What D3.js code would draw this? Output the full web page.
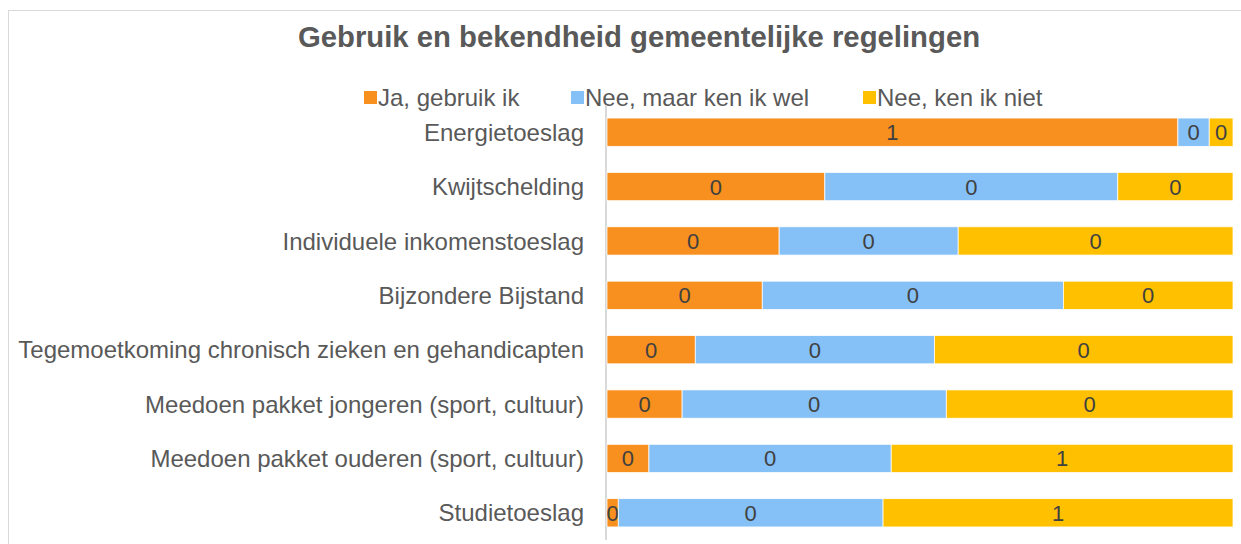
<!DOCTYPE html>
<html><head><meta charset="utf-8">
<script src="https://cdn.jsdelivr.net/npm/d3@7"></script>
<style>body{margin:0;background:#fff}svg{display:block}</style>
</head><body>
<script>
const categories = ["Energietoeslag","Kwijtschelding","Individuele inkomenstoeslag","Bijzondere Bijstand","Tegemoetkoming chronisch zieken en gehandicapten","Meedoen pakket jongeren (sport, cultuur)","Meedoen pakket ouderen (sport, cultuur)","Studietoeslag"];
const seriesNames = ["Ja, gebruik ik","Nee, maar ken ik wel","Nee, ken ik niet"];
const jaGebruik   = [0.912,0.348,0.275,0.248,0.141,0.120,0.067,0.018];
const neeKenWel   = [0.050,0.468,0.286,0.481,0.382,0.422,0.387,0.423];
const neeKenNiet  = [0.038,0.184,0.439,0.271,0.477,0.458,0.546,0.559];
const colors = ["#F7901E","#85C0F7","#FFC000"];
const title = "Gebruik en bekendheid gemeentelijke regelingen";

const W=1241,H=544;
const FF="Liberation Sans, Arial, sans-serif";
const svg=d3.select("body").append("svg").attr("width",W).attr("height",H);
svg.append("rect").attr("x",8.5).attr("y",10.5).attr("width",W).attr("height",H).attr("fill","#fff").attr("stroke","#d9d9d9");

const margin={left:607,right:8,top:105,bottom:4};
const rows=categories.map((c,i)=>({cat:c,s0:jaGebruik[i],s1:neeKenWel[i],s2:neeKenNiet[i]}));
const stack=d3.stack().keys(["s0","s1","s2"]).offset(d3.stackOffsetExpand)(rows);

const x=d3.scaleLinear().domain([0,1]).range([margin.left,W-margin.right]);
const y=d3.scaleBand().domain(categories).range([margin.top,H-margin.bottom]).paddingInner(0.48).paddingOuter(0.24);

svg.append("text").attr("x",639).attr("y",47).attr("text-anchor","middle")
  .attr("font-family",FF).attr("font-weight","bold").attr("font-size",29.3).attr("fill","#595959").text(title);

// legend
const legX=[364,571,863];
const lg=svg.append("g");
seriesNames.forEach((n,i)=>{
  lg.append("rect").attr("x",legX[i]).attr("y",91).attr("width",13).attr("height",13).attr("fill",colors[i]);
  lg.append("text").attr("x",legX[i]+14).attr("y",106).attr("font-family",FF).attr("font-size",24).attr("fill","#595959").text(n);
});

// axis
const yAxis=d3.axisLeft(y).tickSize(0).tickPadding(22);
const ga=svg.append("g").attr("transform",`translate(${margin.left-1},0)`).call(yAxis);
ga.select(".domain").attr("stroke","#d9d9d9").attr("stroke-width",2).attr("d",`M0,${margin.top}V${H-4}`);
ga.selectAll("text").attr("font-family",FF).attr("font-size",24).attr("fill","#595959").attr("dy","0.36em");

const g=svg.append("g");
stack.forEach((layer,li)=>{
  const lay=g.append("g");
  lay.selectAll("rect").data(layer).enter().append("rect")
    .attr("x",d=>x(d[0])).attr("width",d=>x(d[1])-x(d[0]))
    .attr("y",d=>y(d.data.cat)).attr("height",y.bandwidth())
    .attr("fill",colors[li]).attr("stroke","#fff").attr("stroke-width",0.75);
  lay.selectAll("text").data(layer).enter().append("text")
    .attr("x",d=>(x(d[0])+x(d[1]))/2).attr("y",d=>y(d.data.cat)+y.bandwidth()/2+8)
    .attr("text-anchor","middle").attr("font-family",FF).attr("font-size",22).attr("fill","#404040")
    .text(d=>d3.format(".0f")(d[1]-d[0]));
});
</script>
</body></html>
